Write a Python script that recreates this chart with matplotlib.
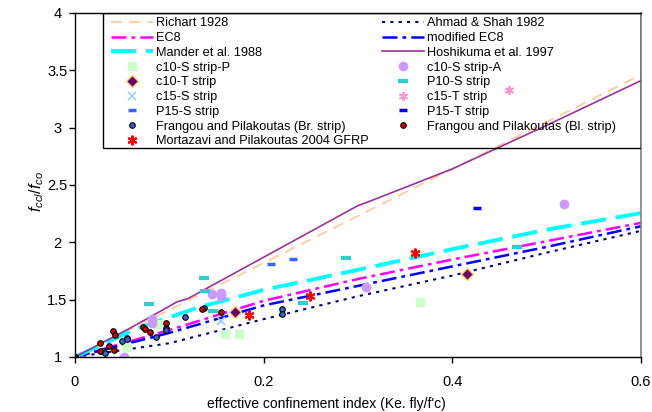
import matplotlib
matplotlib.use("Agg")
import matplotlib.pyplot as plt
from matplotlib.patches import Rectangle

plt.rcParams['font.family'] = ['Liberation Sans', 'DejaVu Sans']
plt.rcParams['mathtext.fontset'] = 'custom'
plt.rcParams['mathtext.it'] = 'Liberation Sans:italic'
plt.rcParams['mathtext.rm'] = 'Liberation Sans'

# model curves
x_model = [0, 0.1, 0.2, 0.3, 0.4, 0.5, 0.6]
richart = [1, 1.41, 1.82, 2.23, 2.64, 3.05, 3.46]
ahmad_shah = [1, 1.12, 1.33, 1.53, 1.71, 1.91, 2.10]
ec8 = [1, 1.235, 1.49, 1.68, 1.85, 2.01, 2.17]
mod_ec8 = [1, 1.21, 1.45, 1.62, 1.79, 1.96, 2.14]
mander_x = [0, 0.066, 0.13, 0.2, 0.3, 0.4, 0.5, 0.6]
mander_y = [1, 1.25, 1.43, 1.585, 1.76, 1.94, 2.11, 2.255]
hoshi_x = [0, 0.058, 0.08, 0.108, 0.12, 0.2, 0.3, 0.31, 0.4, 0.442, 0.5, 0.6]
hoshi_y = [1, 1.25, 1.35, 1.48, 1.51, 1.87, 2.32, 2.35, 2.64, 2.80, 3.02, 3.41]

# test data
c10sp_x = [0.055, 0.088, 0.159, 0.174, 0.366]
c10sp_y = [1.09, 1.29, 1.20, 1.20, 1.48]
c10t_x = [0.170, 0.416]
c10t_y = [1.39, 1.72]
c15s_x = [0.155]
c15s_y = [1.315]
p15s_x = [0.208, 0.231]
p15s_y = [1.81, 1.855]
c10sa_x = [0.052, 0.082, 0.082, 0.145, 0.155, 0.155, 0.3085, 0.5185]
c10sa_y = [1.00, 1.30, 1.33, 1.55, 1.53, 1.56, 1.61, 2.33]
p10s_x = [0.079, 0.137, 0.138, 0.146, 0.242, 0.287, 0.469]
p10s_y = [1.46, 1.69, 1.575, 1.40, 1.47, 1.86, 1.955]
c15t_x = [0.4605]
c15t_y = [3.33]
p15t_x = [0.426]
p15t_y = [2.30]
fr_br_x = [0.0, 0.030, 0.032, 0.0495, 0.055, 0.0555, 0.086, 0.096, 0.097, 0.1167, 0.137, 0.219, 0.219]
fr_br_y = [1.0, 1.05, 1.037, 1.14, 1.17, 1.155, 1.177, 1.25, 1.235, 1.346, 1.43, 1.42, 1.375]
fr_bl_x = [0.0, 0.026, 0.026, 0.036, 0.040, 0.042, 0.041, 0.0717, 0.0746, 0.0795, 0.0965, 0.135, 0.1545]
fr_bl_y = [1.0, 1.12, 1.055, 1.096, 1.23, 1.19, 1.062, 1.265, 1.24, 1.22, 1.30, 1.415, 1.39]
mort_x = [0.185, 0.249, 0.3605]
mort_y = [1.366, 1.53, 1.91]

x_ticks = [0, 0.2, 0.4, 0.6]
x_ticklabels = ['0', '0.2', '0.4', '0.6']
y_ticks = [1, 1.5, 2, 2.5, 3, 3.5, 4]
y_ticklabels = ['1', '1.5', '2', '2.5', '3', '3.5', '4']

fig = plt.figure(figsize=(6.52, 4.12), dpi=100)
ax = fig.add_axes((0.115, 0.1335, 0.868, 0.835))

h = {}
h['Richart 1928'], = ax.plot(x_model, richart, color='#FFCC99', lw=1.3, dashes=(6, 4))
h['Ahmad & Shah 1982'], = ax.plot(x_model, ahmad_shah, color='#000080', lw=1.5, dashes=(1.5, 2.5))
h['EC8'], = ax.plot(x_model, ec8, color='#FF00FF', lw=1.8, dashes=(6, 2, 1.5, 2))
h['modified EC8'], = ax.plot(x_model, mod_ec8, color='#0000FF', lw=1.8, dashes=(6, 2, 1.5, 2))
h['Mander et al. 1988'], = ax.plot(mander_x, mander_y, color='#00FFFF', lw=2.8, dashes=(6.5, 2.5))
h['Hoshikuma et al. 1997'], = ax.plot(hoshi_x, hoshi_y, color='#993399', lw=1.2)

h['c10-S strip-P'], = ax.plot(c10sp_x, c10sp_y, ls='none', marker='s', ms=5.5, color='#CCFFCC', mec='#CCFFCC')
h['c10-T strip'], = ax.plot(c10t_x, c10t_y, ls='none', marker='D', ms=6.5, color='#660066', mec='#FFCC66', mew=1)
h['c15-S strip'], = ax.plot(c15s_x, c15s_y, ls='none', marker='x', ms=5.5, color='#99CCFF', mew=1.2)
h['P15-S strip'], = ax.plot(p15s_x, p15s_y, ls='none', marker='_', ms=5.5, color='#3366FF', mew=2.5)
h['Frangou and Pilakoutas (Br. strip)'], = ax.plot(fr_br_x, fr_br_y, ls='none', marker='o', ms=4,
                                                   color='#3366CC', mec='#000000', mew=0.8)
h['Mortazavi and Pilakoutas 2004 GFRP'], = ax.plot(mort_x, mort_y, ls='none', marker=(6, 2, 0), ms=7,
                                                   color='#FF0000', mew=1.5)
h['c10-S strip-A'], = ax.plot(c10sa_x, c10sa_y, ls='none', marker='o', ms=6, color='#CC99FF', mec='#CC99FF')
h['P10-S strip'], = ax.plot(p10s_x, p10s_y, ls='none', marker='_', ms=6.5, color='#33CCCC', mew=3)
h['c15-T strip'], = ax.plot(c15t_x, c15t_y, ls='none', marker=(6, 2, 0), ms=6.5, color='#FF99CC', mew=1.3)
h['P15-T strip'], = ax.plot(p15t_x, p15t_y, ls='none', marker='_', ms=5.5, color='#0000FF', mew=2.5)
h['Frangou and Pilakoutas (Bl. strip)'], = ax.plot(fr_bl_x, fr_bl_y, ls='none', marker='o', ms=4,
                                                   color='#CC0000', mec='#000000', mew=0.8)

order = ['Richart 1928', 'EC8', 'Mander et al. 1988', 'c10-S strip-P', 'c10-T strip', 'c15-S strip',
         'P15-S strip', 'Frangou and Pilakoutas (Br. strip)', 'Mortazavi and Pilakoutas 2004 GFRP',
         'Ahmad & Shah 1982', 'modified EC8', 'Hoshikuma et al. 1997', 'c10-S strip-A', 'P10-S strip',
         'c15-T strip', 'P15-T strip', 'Frangou and Pilakoutas (Bl. strip)']

ax.set_xlim(0, 0.6)
ax.set_ylim(1, 4)

# legend box drawn separately so its padding matches
x0 = (103 - 75) / 566.0
y0 = (357 - 148) / 344.0
ax.add_patch(Rectangle((x0, y0), 1 - x0, 1 - y0, transform=ax.transAxes, fill=False,
                       edgecolor='black', lw=1, zorder=5))
leg = ax.legend([h[k] for k in order], order, ncol=2, loc='upper left',
                bbox_to_anchor=(x0 - 0.002, 1.013), frameon=False, fontsize=9.2,
                handlelength=3.3, handletextpad=0.25, labelspacing=0.215, columnspacing=1.0,
                numpoints=1, borderpad=0.2)

ax.set_xticks(x_ticks)
ax.set_xticklabels(x_ticklabels)
ax.set_yticks(y_ticks)
# y labels are centred under each other, as in the original
ax.set_yticklabels(y_ticklabels, ha='center')
ax.tick_params(direction='out', length=4, width=1, labelsize=10.5, colors='black')
ax.tick_params(axis='x', pad=9)
ax.tick_params(axis='y', pad=8.6)

for s in ['left', 'bottom', 'top']:
    ax.spines[s].set_color('black')
    ax.spines[s].set_linewidth(1)
ax.spines['right'].set_color('#808080')
ax.spines['right'].set_linewidth(1.2)

ax.set_xlabel("effective confinement index (Ke. fly/f'c)", fontsize=10)
ax.xaxis.set_label_coords(0.445, -0.115)
ax.set_ylabel(r'$f_{ccl}/f_{co}$', fontsize=11.5)
ax.yaxis.set_label_coords(-0.052, 0.48)

fig.savefig('out.png', dpi=100)
